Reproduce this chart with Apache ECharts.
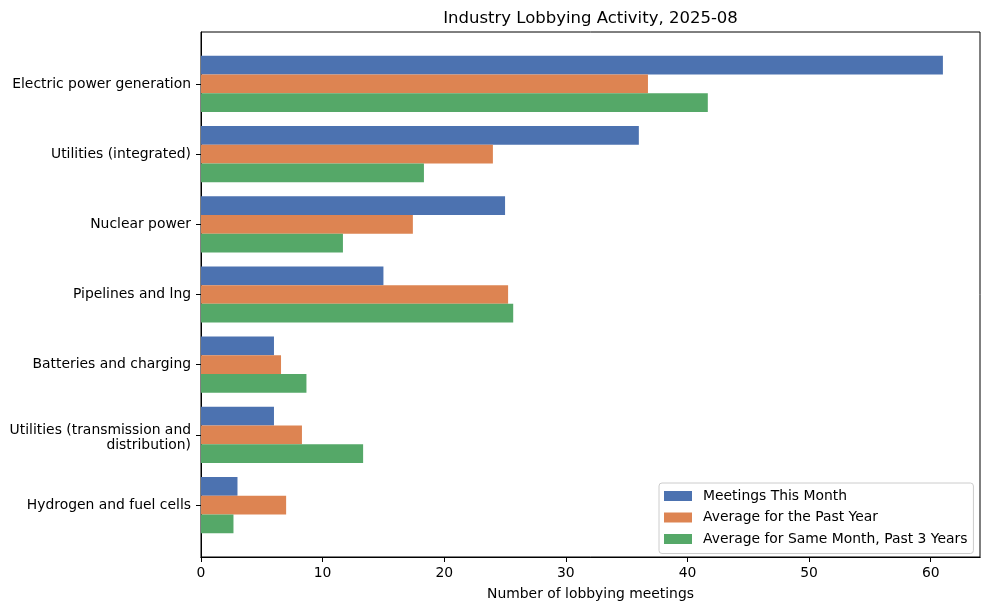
<!DOCTYPE html>
<html>
<head>
<meta charset="utf-8">
<script src="https://cdn.jsdelivr.net/npm/echarts@6/dist/echarts.min.js"></script>
<style>html,body{margin:0;padding:0;background:#fff;}#c{width:989px;height:610px;}</style>
</head>
<body>
<div id="c"></div>
<script>
const categories = ["Electric power generation", "Utilities (integrated)", "Nuclear power", "Pipelines and lng", "Batteries and charging", "Utilities (transmission and\ndistribution)", "Hydrogen and fuel cells"];
const meetingsThisMonth = [61, 36, 25, 15, 6, 6, 3];
const avgPastYear = [36.75, 24, 17.42, 25.25, 6.58, 8.3, 7];
const avgSameMonth3Y = [41.67, 18.33, 11.67, 25.67, 8.67, 13.33, 2.67];
const xTicks = [0, 10, 20, 30, 40, 50, 60];
const seriesNames = ["Meetings This Month", "Average for the Past Year", "Average for Same Month, Past 3 Years"];
const colors = ["#4C72B0", "#DD8452", "#55A868"];

const FONT = "DejaVu Sans";
const FS = 13.9;
const chart = echarts.init(document.getElementById('c'), null, {renderer: 'canvas'});
const option = {
  animation: false,
  textStyle: {fontFamily: FONT, color: '#000'},
  title: {
    text: "Industry Lobbying Activity, 2025-08",
    left: 585.5, top: 5, textAlign: 'center',
    textStyle: {fontFamily: FONT, fontSize: 16.5, fontWeight: 'normal', color: '#000'}
  },
  legend: {
    orient: 'vertical',
    left: 659, top: 483,
    data: seriesNames,
    icon: 'rect',
    itemWidth: 28, itemHeight: 10, itemGap: 5.5,
    padding: [5, 6, 6.5, 5],
    borderColor: '#cccccc', borderWidth: 1, borderRadius: 3,
    backgroundColor: 'rgba(255,255,255,0.8)',
    textStyle: {fontFamily: FONT, fontSize: FS, color: '#000', lineHeight: 16, padding: [0,0,0,6]},
    itemStyle: {borderWidth: 0}
  },
  grid: [
    {left: 201, right: 9, top: 48.85, bottom: 69.85, show: false},
    {left: 201, right: 9, top: 32, bottom: 53, show: true, borderColor: '#000', borderWidth: 1, backgroundColor: 'transparent'}
  ],
  xAxis: [
    {
      type: 'value', gridIndex: 0, min: 0, max: 64.05, interval: 10, offset: 16.85,
      name: "Number of lobbying meetings", nameLocation: 'middle', nameGap: 30,
      nameTextStyle: {fontFamily: FONT, fontSize: FS, color: '#000'},
      axisLine: {show: true, lineStyle: {color: '#000', width: 1}},
      axisTick: {show: true, length: 5, lineStyle: {color: '#000'}, customValues: xTicks},
      axisLabel: {fontFamily: FONT, fontSize: FS, color: '#000', margin: 9, customValues: xTicks},
      splitLine: {show: false}
    },
    {type: 'value', gridIndex: 1, min: 0, max: 1, position: 'top',
      axisLine: {show: true, lineStyle: {color: '#000', width: 1}},
      axisTick: {show: false}, axisLabel: {show: false}, splitLine: {show: false}}
  ],
  yAxis: [
    {
      type: 'category', gridIndex: 0, data: categories, inverse: true,
      axisLine: {show: true, lineStyle: {color: '#000', width: 1}},
      axisTick: {show: true, length: 5, alignWithLabel: true, lineStyle: {color: '#000'}},
      axisLabel: {
        fontFamily: FONT, fontSize: FS, color: '#000', margin: 10, align: 'right', lineHeight: 16,
        formatter: function (v) {
          if (v.indexOf('\n') < 0) return v;
          return '{p| }\n' + v.split('\n').map(function (s) { return '{t|' + s + '}'; }).join('\n');
        },
        rich: {
          p: {fontSize: 1, lineHeight: 6, height: 6},
          t: {fontFamily: FONT, fontSize: FS, color: '#000', lineHeight: 15.5, align: 'right'}
        }
      },
      splitLine: {show: false}
    },
    {type: 'value', gridIndex: 1, min: 0, max: 1, position: 'left',
      axisLine: {show: true, lineStyle: {color: '#000', width: 1}},
      axisTick: {show: false}, axisLabel: {show: false}, splitLine: {show: false}}
  ],
  series: [
    {name: seriesNames[0], type: 'bar', xAxisIndex: 0, yAxisIndex: 0, data: meetingsThisMonth, itemStyle: {color: colors[0]}, barGap: '0%', barCategoryGap: '20%'},
    {name: seriesNames[1], type: 'bar', xAxisIndex: 0, yAxisIndex: 0, data: avgPastYear, itemStyle: {color: colors[1]}, barGap: '0%', barCategoryGap: '20%'},
    {name: seriesNames[2], type: 'bar', xAxisIndex: 0, yAxisIndex: 0, data: avgSameMonth3Y, itemStyle: {color: colors[2]}, barGap: '0%', barCategoryGap: '20%'}
  ]
};
chart.setOption(option);
</script>
</body>
</html>
